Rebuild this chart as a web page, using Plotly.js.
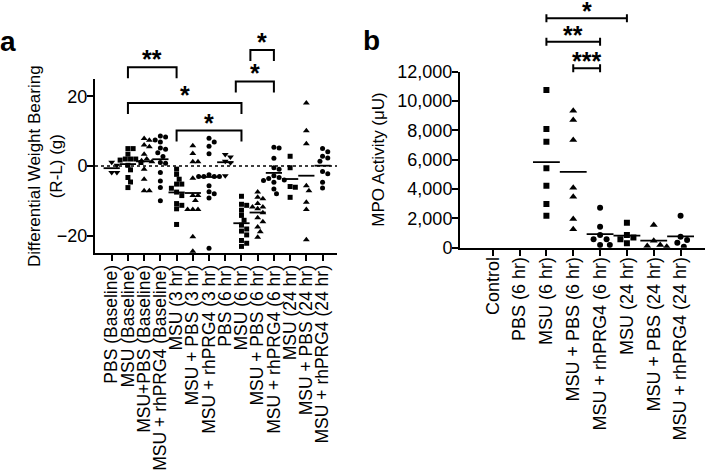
<!DOCTYPE html>
<html><head><meta charset="utf-8">
<script src="https://cdn.plot.ly/plotly-3.0.1.min.js"></script>
<style>html,body{margin:0;padding:0;background:#fff}</style>
</head><body>
<div id="chart" style="width:709px;height:472px"></div>
<script>
// ---------- Panel a data: Differential Weight Bearing (R-L) (g) ----------
const catsA = ["PBS (Baseline)", "MSU (Baseline)", "MSU+PBS (Baseline)", "MSU + rhPRG4 (Baseline)",
  "MSU (3 hr)", "MSU + PBS (3 hr)", "MSU + rhPRG4 (3 hr)", "PBS (6 hr)", "MSU (6 hr)",
  "MSU + PBS (6 hr)", "MSU + rhPRG4 (6 hr)", "MSU (24 hr)", "MSU + PBS (24 hr)", "MSU + rhPRG4 (24 hr)"];
const pbsBase   = [1.1, 0.2, -1.9, -1.9];
const msuBase   = [5.0, 5.0, 3.4, 2.0, 2.0, 2.0, 1.7, 1.0, 0.2, -1.1, -3.3, -4.6, -6.2];
const msuPbsBase = [7.9, 7.4, 6.0, 5.5, 3.4, 2.0, 1.5, 1.2, -0.9, -3.8, -7.1, -7.1];
const msuRhBase = [8.6, 8.3, 7.5, 6.9, 5.2, 4.8, 3.8, 2.7, 1.0, 0.8, -1.9, -4.3, -6.2, -10.0];
const msu3      = [-0.9, -2.4, -3.8, -5.2, -5.2, -6.4, -7.5, -8.5, -10.8, -11.3, -12.3, -16.8];
const msuPbs3   = [5.8, 3.6, 1.2, 1.2, -3.5, -8.5, -8.5, -9.9, -12.5, -12.5, -12.5, -20.3, -24.5];
const msuRh3    = [8.0, 6.9, 5.7, 3.5, -2.5, -3.0, -3.0, -3.0, -3.0, -5.7, -7.4, -8.0, -9.2, -23.6];
const pbs6      = [3.3, 2.6, 1.4, 0.9, -2.8];
const msu6      = [-8.7, -11.0, -11.3, -12.7, -14.2, -15.6, -17.0, -18.1, -18.7, -19.8, -21.4, -22.2, -23.1];
const msuPbs6   = [-7.5, -9.0, -9.4, -10.8, -11.8, -11.8, -12.3, -13.4, -14.9, -16.0, -17.5, -18.9, -20.5];
const msuRh6    = [5.4, 5.2, 2.2, -0.5, -0.9, -2.8, -3.3, -3.6, -4.0, -4.2, -4.7, -6.6, -8.0];
const msu24     = [2.8, -0.5, -5.9, -6.1, -9.0];
const msuPbs24  = [18.1, 10.1, 6.4, -5.7, -7.1, -10.4, -12.5, -21.2];
const msuRh24   = [5.0, 4.1, 2.8, 2.3, 1.4, -1.6, -2.2, -4.7, -6.3];
const seriesA = [pbsBase, msuBase, msuPbsBase, msuRhBase, msu3, msuPbs3, msuRh3, pbs6, msu6, msuPbs6, msuRh6, msu24, msuPbs24, msuRh24];

// ---------- Panel b data: MPO Activity (μU) ----------
const catsB = ["Control", "PBS (6 hr)", "MSU (6 hr)", "MSU + PBS (6 hr)", "MSU + rhPRG4 (6 hr)",
  "MSU (24 hr)", "MSU + PBS (24 hr)", "MSU + rhPRG4 (24 hr)"];
const controlB  = [];
const pbs6B     = [];
const msu6B     = [10750, 8090, 7230, 5410, 4230, 2980, 2180];
const msuPbs6B  = [9340, 8700, 7340, 4090, 3480, 1950, 1250];
const msuRh6B   = [2730, 1430, 860, 570, 570, 180, 180];
const msu24B    = [1700, 860, 700, 570, 300];
const msuPbs24B = [1550, 480, 180, 110, 70];
const msuRh24B  = [2180, 750, 520, 340, 70];
const seriesB = [controlB, pbs6B, msu6B, msuPbs6B, msuRh6B, msu24B, msuPbs24B, msuRh24B];

// significance comparisons (category indices + label)
const sigA = [[1, 4, "**"], [1, 8, "*"], [4, 8, "*"], [7.65, 10, "*"], [8.55, 10, "*"]];
const sigB = [[2, 5, "*"], [2, 4, "**"], [3, 4, "***"]];

// ---------- styling / geometry ----------
const W = 709, H = 472;
const FONT = "Liberation Sans, Arial, Helvetica, sans-serif";
const domAx = [95 / W, 337 / W], domAy = [1 - 253 / H, 1 - 79 / H];
const domBx = [460 / W, 705 / W], domBy = [1 - 247.7 / H, 1 - 71.7 / H];
const rangeAx = [-1.03, 13.89], rangeAy = [-25, 25];
const rangeBx = [-1.22, 7.91], rangeBy = [0, 12000];

function symbolFor(name) {
  if (name.indexOf("rhPRG4") >= 0) return "circle";
  if (name.indexOf("PBS") >= 0 && name.indexOf("MSU") >= 0) return "triangle-up";
  if (name.indexOf("PBS") >= 0) return "triangle-down";
  return "square";
}
// beeswarm spreading, in category units
function swarm(vals, pyPerUnit, pxPerCat, d) {
  const idx = vals.map((v, i) => i).sort((a, b) => vals[b] - vals[a]);
  const placed = [], off = new Array(vals.length).fill(0);
  for (const i of idx) {
    const y = vals[i] * pyPerUnit;
    for (let k = 0; k < 60; k++) {
      const c = (k % 2 ? 1 : -1) * Math.ceil(k / 2) * d / 2;
      if (placed.every(p => (p.x - c) ** 2 + (p.y - y) ** 2 >= d * d)) {
        placed.push({x: c, y: y}); off[i] = c / pxPerCat; break;
      }
    }
  }
  return off;
}
const mean = a => a.reduce((s, v) => s + v, 0) / a.length;

const pxCatA = (domAx[1] - domAx[0]) * W / (rangeAx[1] - rangeAx[0]);
const pxUnitA = (domAy[1] - domAy[0]) * H / (rangeAy[1] - rangeAy[0]);
const pxCatB = (domBx[1] - domBx[0]) * W / (rangeBx[1] - rangeBx[0]);
const pxUnitB = (domBy[1] - domBy[0]) * H / (rangeBy[1] - rangeBy[0]);

const traces = [];
function addPanel(cats, series, xa, ya, pyU, pxC, d, msize) {
  const mx = [], my = [];
  series.forEach((vals, i) => {
    if (!vals.length) return;
    const off = swarm(vals, pyU, pxC, d);
    const sym = symbolFor(cats[i]);
    traces.push({type: "scatter", mode: "markers", xaxis: xa, yaxis: ya, showlegend: false,
      x: vals.map((v, j) => i + off[j]), y: vals,
      marker: {symbol: sym, color: "black", size: sym.indexOf("triangle") === 0 ? msize + 1 : msize, line: {width: 0}},
      hoverinfo: "y"});
    const m = mean(vals);
    mx.push(i - 0.5, i + 0.5, null); my.push(m, m, null);
  });
  traces.push({type: "scatter", mode: "lines", xaxis: xa, yaxis: ya, showlegend: false,
    x: mx, y: my, line: {color: "black", width: 1.8}, hoverinfo: "skip"});
}
addPanel(catsA, seriesA, "x", "y", pxUnitA, pxCatA, 5.2, 5);
addPanel(catsB, seriesB, "x2", "y2", pxUnitB, pxCatB, 6.5, 6);

const yPaperA = v => domAy[0] + (v - rangeAy[0]) / (rangeAy[1] - rangeAy[0]) * (domAy[1] - domAy[0]);
const yPaperB = v => domBy[0] + (v - rangeBy[0]) / (rangeBy[1] - rangeBy[0]) * (domBy[1] - domBy[0]);

const shapes = [
  {type: "line", xref: "x domain", yref: "y", x0: 0, x1: 1, y0: 0, y1: 0,
   line: {color: "black", width: 1.6, dash: "dot"}, layer: "below"}
];
const annotations = [];
const starFont = {family: FONT, size: 25, color: "black"};
// panel a brackets: [x0, x1, label]; tiers stacked in pixel space above the plot
const tierA = [28.4, 18.1, 10.2, 24.3, 33.3];
sigA.forEach((s, k) => {
  const top = yPaperA(tierA[k]), leg = top - 11 / H;
  shapes.push({type: "path", xref: "x", yref: "paper",
    path: `M ${s[0]} ${leg} L ${s[0]} ${top} L ${s[1]} ${top} L ${s[1]} ${leg}`,
    line: {color: "black", width: 2}});
  annotations.push({xref: "x", yref: "paper", x: (s[0] + s[1]) / 2, y: top, text: "<b>" + s[2] + "</b>",
    showarrow: false, font: starFont, xanchor: "center", yanchor: "middle", yshift: 8});
});
const tierB = [15640, 14045, 12232];
sigB.forEach((s, k) => {
  const yy = yPaperB(tierB[k]), cap = 4 / H;
  shapes.push({type: "path", xref: "x2", yref: "paper",
    path: `M ${s[0]} ${yy - cap} L ${s[0]} ${yy + cap} M ${s[0]} ${yy} L ${s[1]} ${yy} M ${s[1]} ${yy - cap} L ${s[1]} ${yy + cap}`,
    line: {color: "black", width: 2}});
  annotations.push({xref: "x2", yref: "paper", x: (s[0] + s[1]) / 2, y: yy, text: "<b>" + s[2] + "</b>",
    showarrow: false, font: starFont, xanchor: "center", yanchor: "middle", yshift: 7});
});
// panel letters and axis titles
annotations.push({xref: "paper", yref: "paper", x: 8 / W, y: 1 - 42 / H, text: "<b>a</b>", showarrow: false,
  font: {family: FONT, size: 28, color: "black"}, xanchor: "center", yanchor: "middle"});
annotations.push({xref: "paper", yref: "paper", x: 371 / W, y: 1 - 40 / H, text: "<b>b</b>", showarrow: false,
  font: {family: FONT, size: 28, color: "black"}, xanchor: "center", yanchor: "middle"});
annotations.push({xref: "paper", yref: "paper", x: 46 / W, y: (domAy[0] + domAy[1]) / 2,
  text: "Differential Weight Bearing<br>(R-L) (g)", textangle: -90, showarrow: false,
  font: {family: FONT, size: 17, color: "black"}, xanchor: "center", yanchor: "middle"});
annotations.push({xref: "paper", yref: "paper", x: 379 / W, y: (domBy[0] + domBy[1]) / 2,
  text: "MPO Activity (μU)", textangle: -90, showarrow: false,
  font: {family: FONT, size: 17, color: "black"}, xanchor: "center", yanchor: "middle"});

const axBase = {showline: true, linecolor: "black", linewidth: 2, ticks: "outside", ticklen: 6,
  tickwidth: 2, tickcolor: "black", showgrid: false, zeroline: false, automargin: false, fixedrange: true};
const layout = {
  width: W, height: H, margin: {l: 0, r: 0, t: 0, b: 0},
  paper_bgcolor: "white", plot_bgcolor: "white", showlegend: false,
  font: {family: FONT, color: "black"},
  xaxis: Object.assign({}, axBase, {domain: domAx, range: rangeAx, anchor: "y",
    tickmode: "array", tickvals: catsA.map((c, i) => i), ticktext: catsA, tickangle: -90,
    ticklabelstandoff: -3, tickfont: {family: FONT, size: 17.5, color: "black"}}),
  yaxis: Object.assign({}, axBase, {domain: domAy, range: rangeAy, anchor: "x",
    tickmode: "array", tickvals: [-20, 0, 20], ticklabelstandoff: -4,
    tickfont: {family: FONT, size: 18, color: "black"}}),
  xaxis2: Object.assign({}, axBase, {domain: domBx, range: rangeBx, anchor: "y2",
    tickmode: "array", tickvals: catsB.map((c, i) => i), ticktext: catsB, tickangle: -90,
    ticklabelstandoff: -6, tickfont: {family: FONT, size: 18, color: "black"}}),
  yaxis2: Object.assign({}, axBase, {domain: domBy, range: rangeBy, anchor: "x2",
    tickmode: "linear", tick0: 0, dtick: 2000, tickformat: ",d", ticklabelstandoff: -4,
    tickfont: {family: FONT, size: 18, color: "black"}}),
  shapes: shapes, annotations: annotations
};
Plotly.newPlot("chart", traces, layout, {displayModeBar: false, staticPlot: true});
</script>
</body></html>
